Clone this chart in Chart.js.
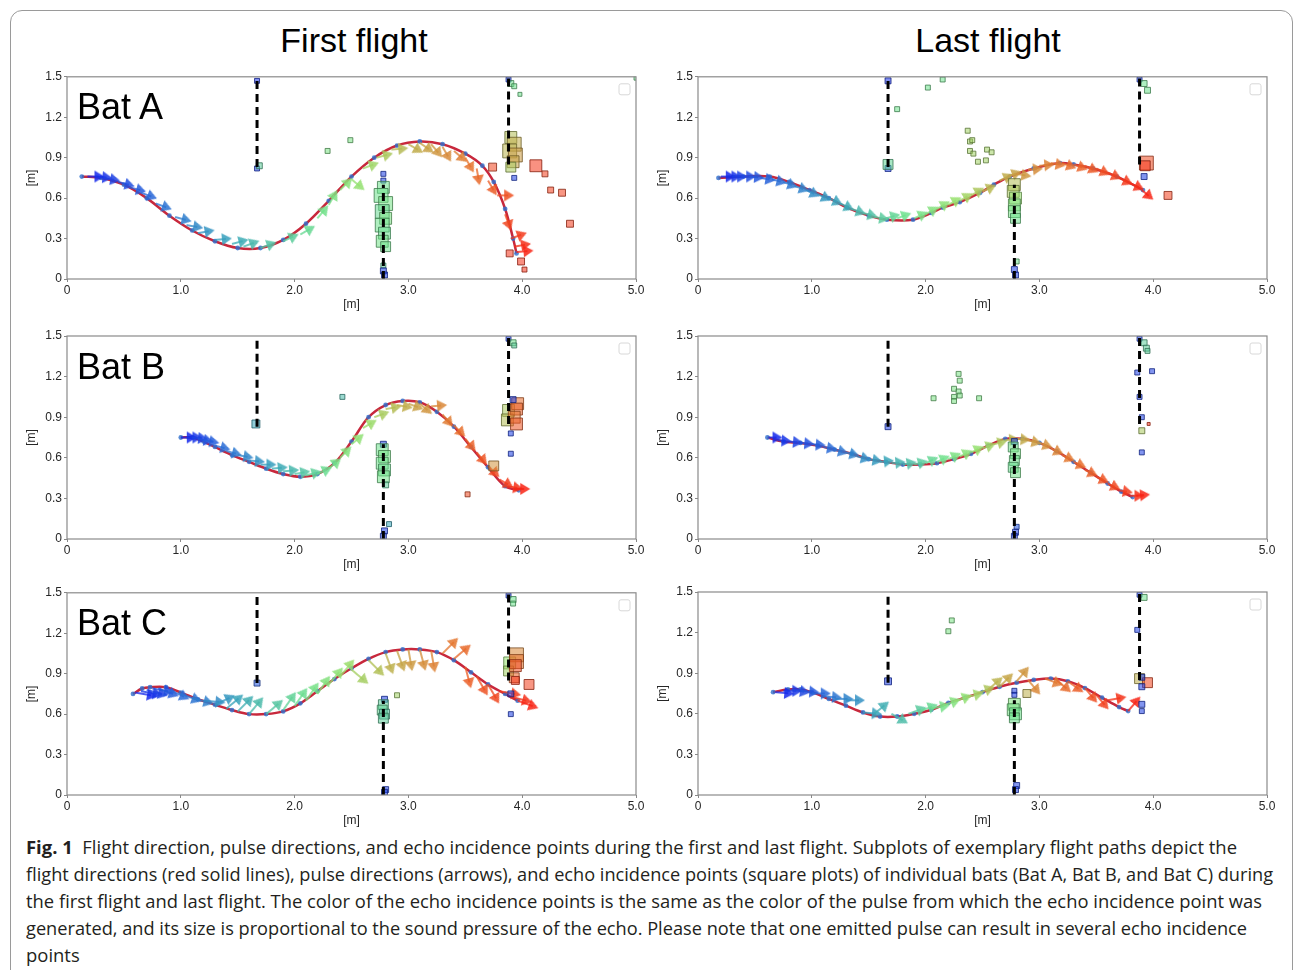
<!DOCTYPE html>
<html>
<head>
<meta charset="utf-8">
<script src="https://cdn.jsdelivr.net/npm/chart.js@4.4.1/dist/chart.umd.min.js"></script>
<style>
  body { margin: 0; background: #fff; width: 1293px; height: 970px; overflow: hidden; position: relative; font-family: "Liberation Sans", Arial, sans-serif; }
  .frame { position: absolute; left: 10px; top: 10px; width: 1281px; height: 1000px; border: 1px solid #9a9a9a; border-radius: 12px; }
  .box { position: absolute; width: 630px; height: 250px; }
  .head { position: absolute; top: 23px; font-size: 34px; line-height: 34px; color: #000; transform: translateX(-50%); white-space: nowrap; }
  .bat { position: absolute; left: 77px; font-size: 36px; line-height: 36px; color: #000; }
  .cap { position: absolute; left: 26px; top: 834px; font-family: "Open Sans", "Noto Sans", sans-serif; font-size: 18px; line-height: 27px; color: #231f20; white-space: nowrap; }
  .cap span { display: inline-block; transform-origin: 0 0; }
  .cap b { font-weight: 700; }
</style>
</head>
<body>
<div class="frame"></div>
<div class="head" style="left:354px">First flight</div>
<div class="head" style="left:988px">Last flight</div>

<div class="box" style="left:20px;top:66px"><canvas id="cA1"></canvas></div>
<div class="box" style="left:651px;top:66px"><canvas id="cA2"></canvas></div>
<div class="box" style="left:20px;top:326px"><canvas id="cB1"></canvas></div>
<div class="box" style="left:651px;top:326px"><canvas id="cB2"></canvas></div>
<div class="box" style="left:20px;top:582px"><canvas id="cC1"></canvas></div>
<div class="box" style="left:651px;top:582px"><canvas id="cC2"></canvas></div>

<div class="bat" style="top:89px">Bat A</div>
<div class="bat" style="top:349px">Bat B</div>
<div class="bat" style="top:605px">Bat C</div>

<div class="cap" id="cap">
  <div><span data-w="1211"><b>Fig. 1</b>&nbsp; Flight direction, pulse directions, and echo incidence points during the first and last flight. Subplots of exemplary flight paths depict the</span></div>
  <div><span data-w="1247">flight directions (red solid lines), pulse directions (arrows), and echo incidence points (square plots) of individual bats (Bat A, Bat B, and Bat C) during</span></div>
  <div><span data-w="1236">the first flight and last flight. The color of the echo incidence points is the same as the color of the pulse from which the echo incidence point was</span></div>
  <div><span data-w="1221">generated, and its size is proportional to the sound pressure of the echo. Please note that one emitted pulse can result in several echo incidence</span></div>
  <div><span>points</span></div>
</div>

<script>
// 軸の目盛り
const xTicks = [0, 1, 2, 3, 4, 5];
const yTicks = [0, 0.3, 0.6, 0.9, 1.2, 1.5];

// 障害物（破線）
const wallX = [1.67, 2.78, 3.88];
const wallLow = [0.83, 0, 0.85];
const wallHigh = [1.5, 0.7, 1.5];

// 飛行経路 [x, y]
const pathA1 = [[0.13,0.76],[0.3,0.75],[0.5,0.7],[0.7,0.6],[0.9,0.47],[1.1,0.36],[1.3,0.28],[1.5,0.23],[1.7,0.23],[1.9,0.29],[2.1,0.41],[2.3,0.58],[2.5,0.76],[2.7,0.9],[2.9,0.99],[3.1,1.02],[3.3,1.0],[3.5,0.93],[3.65,0.84],[3.75,0.72],[3.85,0.52],[3.92,0.3],[3.95,0.19]];
const pathA2 = [[0.18,0.75],[0.4,0.76],[0.63,0.76],[0.8,0.72],[0.98,0.66],[1.15,0.6],[1.31,0.53],[1.5,0.47],[1.66,0.44],[1.89,0.44],[2.05,0.49],[2.15,0.53],[2.3,0.57],[2.48,0.64],[2.6,0.7],[2.74,0.76],[2.95,0.82],[3.18,0.86],[3.3,0.85],[3.47,0.82],[3.68,0.76],[3.91,0.66]];
const pathB1 = [[1.0,0.75],[1.1,0.75],[1.2,0.72],[1.3,0.68],[1.45,0.62],[1.6,0.57],[1.75,0.52],[1.9,0.48],[2.05,0.46],[2.2,0.48],[2.35,0.56],[2.5,0.72],[2.65,0.9],[2.8,0.99],[2.95,1.02],[3.1,1.01],[3.25,0.94],[3.4,0.83],[3.55,0.68],[3.7,0.53],[3.85,0.39],[3.97,0.36]];
const pathB2 = [[0.61,0.75],[0.75,0.72],[0.9,0.71],[1.05,0.69],[1.2,0.66],[1.35,0.63],[1.5,0.59],[1.65,0.57],[1.8,0.55],[1.95,0.55],[2.1,0.56],[2.25,0.59],[2.4,0.63],[2.55,0.69],[2.7,0.74],[2.85,0.74],[3.0,0.71],[3.15,0.65],[3.3,0.57],[3.45,0.49],[3.6,0.41],[3.72,0.35],[3.82,0.31]];
const pathC1 = [[0.58,0.75],[0.66,0.79],[0.73,0.8],[0.87,0.8],[1.0,0.76],[1.15,0.71],[1.3,0.67],[1.45,0.63],[1.6,0.6],[1.75,0.6],[1.9,0.62],[2.05,0.68],[2.2,0.77],[2.35,0.86],[2.5,0.94],[2.65,1.01],[2.8,1.06],[2.95,1.08],[3.1,1.08],[3.25,1.06],[3.4,1.0],[3.55,0.91],[3.7,0.82],[3.85,0.75],[3.96,0.7]];
const pathC2 = [[0.66,0.76],[0.79,0.78],[0.9,0.78],[1.0,0.76],[1.15,0.71],[1.3,0.66],[1.45,0.61],[1.6,0.58],[1.75,0.58],[1.9,0.6],[2.05,0.63],[2.2,0.68],[2.35,0.72],[2.5,0.76],[2.65,0.8],[2.8,0.83],[2.95,0.85],[3.1,0.86],[3.25,0.84],[3.4,0.79],[3.55,0.72],[3.7,0.65],[3.78,0.62]];

// パルス方向の矢印 [x, y, 角度(度)]
const arrowsA1 = [[0.18,0.76,0],[0.25,0.76,-5],[0.32,0.75,-10],[0.45,0.72,-15],[0.55,0.68,-15],[0.65,0.64,-20],[0.78,0.56,-20],[0.95,0.46,-15],[1.05,0.4,-10],[1.15,0.34,10],[1.3,0.29,5],[1.45,0.26,15],[1.55,0.24,20],[1.7,0.23,20],[1.9,0.28,25],[2.05,0.33,30],[2.2,0.45,50],[2.3,0.55,60],[2.4,0.66,45],[2.5,0.74,-40],[2.6,0.82,20],[2.72,0.9,15],[2.85,0.96,5],[3.0,1.0,-30],[3.1,1.01,-35],[3.2,1.0,-50],[3.3,0.98,-60],[3.4,0.95,-40],[3.5,0.9,-60],[3.6,0.82,-80],[3.7,0.73,-60],[3.78,0.62,0],[3.85,0.48,-70],[3.9,0.3,20],[3.93,0.24,10],[3.95,0.2,5]];
const arrowsA2 = [[0.2,0.76,0],[0.25,0.76,0],[0.3,0.76,0],[0.38,0.76,0],[0.45,0.76,-5],[0.55,0.75,-10],[0.65,0.74,-15],[0.75,0.72,-20],[0.85,0.69,-20],[0.95,0.66,-25],[1.05,0.63,-25],[1.15,0.6,-25],[1.25,0.56,-25],[1.35,0.52,-20],[1.45,0.49,-15],[1.55,0.46,-10],[1.65,0.45,15],[1.75,0.45,20],[1.9,0.45,25],[2.0,0.48,30],[2.1,0.52,30],[2.2,0.55,30],[2.3,0.58,30],[2.4,0.62,30],[2.5,0.65,25],[2.65,0.73,25],[2.72,0.76,20],[2.8,0.78,-10],[2.9,0.81,5],[3.0,0.84,5],[3.1,0.86,-10],[3.2,0.86,-20],[3.3,0.85,-20],[3.4,0.84,-25],[3.5,0.82,-25],[3.6,0.79,-25],[3.7,0.75,-25],[3.8,0.71,-25],[3.9,0.66,-40]];
const arrowsB1 = [[1.0,0.75,0],[1.05,0.75,0],[1.1,0.75,-5],[1.15,0.74,-10],[1.2,0.73,-10],[1.3,0.69,-15],[1.4,0.65,-15],[1.5,0.62,-10],[1.6,0.58,-5],[1.7,0.55,0],[1.8,0.52,5],[1.9,0.5,5],[2.0,0.48,10],[2.1,0.47,15],[2.2,0.48,25],[2.3,0.52,40],[2.4,0.6,45],[2.5,0.7,40],[2.6,0.82,30],[2.7,0.9,20],[2.8,0.96,10],[2.9,0.99,-10],[3.0,1.0,-20],[3.1,1.0,-40],[3.2,0.98,5],[3.3,0.92,-50],[3.4,0.84,-45],[3.5,0.74,-50],[3.6,0.64,-50],[3.7,0.54,-45],[3.8,0.44,-30],[3.87,0.39,-10],[3.93,0.37,0]];
const arrowsB2 = [[0.62,0.75,0],[0.7,0.73,-5],[0.8,0.72,-5],[0.9,0.71,-5],[1.0,0.7,-5],[1.1,0.68,-10],[1.2,0.66,-15],[1.3,0.64,-15],[1.4,0.61,-15],[1.5,0.59,-10],[1.6,0.57,5],[1.7,0.56,5],[1.8,0.55,10],[1.9,0.55,15],[2.0,0.56,25],[2.1,0.57,25],[2.2,0.59,25],[2.3,0.61,25],[2.4,0.64,25],[2.5,0.67,20],[2.6,0.7,15],[2.7,0.73,5],[2.8,0.74,-5],[2.9,0.73,-15],[3.0,0.71,-20],[3.1,0.67,-25],[3.2,0.62,-25],[3.3,0.57,-25],[3.4,0.51,-25],[3.5,0.46,-25],[3.6,0.41,-25],[3.7,0.36,-10],[3.8,0.32,0],[3.85,0.32,5]];
const arrowsC1 = [[0.6,0.76,-10],[0.65,0.77,-10],[0.7,0.78,-15],[0.75,0.79,-10],[0.8,0.79,-20],[0.9,0.78,-25],[1.0,0.75,-20],[1.1,0.72,-15],[1.2,0.7,-5],[1.3,0.67,25],[1.4,0.64,40],[1.5,0.62,45],[1.6,0.6,50],[1.75,0.6,40],[1.9,0.63,55],[2.0,0.66,55],[2.1,0.7,55],[2.2,0.75,55],[2.3,0.82,50],[2.4,0.88,50],[2.5,0.93,-40],[2.65,1.0,-45],[2.8,1.05,-70],[2.9,1.07,-70],[3.0,1.08,-80],[3.1,1.08,-75],[3.2,1.07,-80],[3.3,1.05,45],[3.4,1.01,40],[3.5,0.95,-75],[3.6,0.88,-60],[3.7,0.82,-60],[3.8,0.77,-10],[3.9,0.73,-15],[3.96,0.7,-20]];
const arrowsC2 = [[0.68,0.76,-5],[0.75,0.77,0],[0.82,0.78,-10],[0.9,0.77,-5],[1.0,0.75,0],[1.1,0.73,-5],[1.2,0.71,0],[1.3,0.7,0],[1.45,0.61,-5],[1.55,0.6,40],[1.7,0.6,-30],[1.85,0.6,20],[1.95,0.62,20],[2.05,0.64,10],[2.15,0.66,20],[2.25,0.69,20],[2.35,0.72,15],[2.45,0.75,20],[2.55,0.78,40],[2.65,0.8,45],[2.8,0.84,50],[2.9,0.85,-50],[3.05,0.86,-20],[3.15,0.85,-40],[3.25,0.84,-35],[3.4,0.79,-50],[3.5,0.74,-50],[3.6,0.7,10],[3.78,0.62,50]];

// エコー入射点 [x, y, 大きさ, 色(0-1)]
const echoesA1 = [[1.67,1.47,2.5,0.02],[1.67,0.82,2.5,0.05],[1.69,0.84,3,0.4],[3.88,1.48,2.5,0.05],[3.9,1.45,3,0.45],[3.93,1.43,2.5,0.45],[3.98,1.37,2,0.45],[5.0,1.49,2,0.45],[2.29,0.95,2.5,0.48],[2.49,1.03,2.5,0.48],
  [2.78,0.78,2.5,0.05],[2.78,0.73,2.5,0.05],[2.78,0.68,6,0.45],[2.76,0.62,7,0.45],[2.8,0.56,7,0.47],[2.77,0.5,7,0.43],[2.8,0.45,6,0.48],[2.77,0.4,7,0.45],[2.79,0.34,6,0.44],[2.77,0.28,6,0.46],[2.8,0.24,5,0.45],[2.78,0.1,2.5,0.4],[2.78,0.06,3,0.05],[2.79,0.03,3,0.05],
  [3.9,1.05,6,0.62],[3.93,1.0,7,0.66],[3.89,0.95,7,0.64],[3.94,0.92,7,0.7],[3.92,0.87,6,0.68],[3.9,0.83,5,0.6],[3.93,0.75,2.5,0.05],
  [3.74,0.83,4,0.92],[4.12,0.84,6,0.95],[4.2,0.78,3,0.93],[4.25,0.66,3,0.93],[4.35,0.64,3.5,0.93],[4.42,0.41,3.5,0.94],[3.89,0.19,3.5,0.96],[3.99,0.13,3.5,0.96],[4.02,0.07,2.5,0.96]];
const echoesA2 = [[1.67,1.47,3,0.02],[1.67,0.82,3,0.05],[1.67,0.85,5,0.42],[1.75,1.26,2.5,0.45],[2.02,1.42,2.5,0.45],[2.15,1.48,2.5,0.45],
  [2.37,1.1,2.5,0.58],[2.39,1.02,2.5,0.58],[2.41,1.03,2.5,0.58],[2.39,0.95,2.5,0.58],[2.42,0.93,2.5,0.58],[2.46,0.87,2.5,0.58],[2.53,0.88,2.5,0.58],[2.54,0.96,2.5,0.58],[2.58,0.94,2.5,0.58],
  [2.78,0.7,6,0.62],[2.77,0.65,6,0.6],[2.79,0.6,6,0.55],[2.78,0.55,6,0.5],[2.78,0.5,6,0.47],[2.79,0.45,5,0.45],[2.8,0.13,2.5,0.45],[2.78,0.07,3,0.05],[2.79,0.03,3,0.05],
  [3.88,1.48,2.5,0.05],[3.92,1.45,3,0.45],[3.95,1.4,3,0.45],[3.94,0.86,7,0.9],[3.93,0.84,5,0.95],[3.92,0.76,3,0.05],[4.13,0.62,4,0.93]];
const echoesB1 = [[1.66,0.85,4,0.3],[2.42,1.05,2.5,0.35],
  [2.78,0.7,3,0.05],[2.77,0.66,6,0.45],[2.79,0.61,6,0.47],[2.77,0.56,6,0.45],[2.79,0.51,6,0.44],[2.78,0.46,6,0.46],[2.8,0.4,3,0.4],[2.83,0.11,2.5,0.3],[2.79,0.06,3,0.05],[2.78,0.02,3,0.05],
  [3.88,1.48,2.5,0.05],[3.92,1.45,3,0.45],[3.93,1.43,2.5,0.4],
  [3.88,0.95,6,0.6],[3.87,0.88,6,0.62],[3.96,1.0,6,0.82],[3.95,0.96,6,0.85],[3.93,0.9,6,0.8],[3.95,0.85,6,0.88],[3.92,1.03,3,0.05],[3.9,0.78,2.5,0.05],[3.9,0.63,2.5,0.05],
  [3.75,0.54,5,0.72],[3.52,0.33,2.5,0.9]];
const echoesB2 = [[1.67,0.83,3,0.05],
  [2.29,1.22,2.5,0.48],[2.3,1.17,2.5,0.48],[2.25,1.11,2.5,0.48],[2.29,1.09,2.5,0.48],[2.3,1.06,2.5,0.48],[2.25,1.05,2.5,0.48],[2.25,1.02,2.5,0.48],[2.07,1.04,2.5,0.48],[2.47,1.04,2.5,0.48],
  [2.78,0.72,3,0.05],[2.77,0.68,5,0.45],[2.79,0.63,5,0.47],[2.78,0.58,5,0.45],[2.77,0.53,5,0.44],[2.79,0.49,5,0.46],[2.8,0.09,2.5,0.1],[2.79,0.05,3,0.05],[2.78,0.02,3,0.05],
  [3.88,1.48,2.5,0.05],[3.92,1.45,3,0.4],[3.94,1.41,3,0.4],[3.95,1.39,2.5,0.4],
  [3.86,1.23,2.5,0.05],[3.99,1.24,2.5,0.05],[3.88,1.05,2.5,0.05],[3.9,0.9,2.5,0.05],[3.9,0.8,3,0.6],[3.9,0.64,2.5,0.05],[3.96,0.85,1.5,0.95]];
const echoesC1 = [[1.67,0.83,3,0.1],[2.9,0.74,2.5,0.58],
  [2.79,0.71,3,0.05],[2.78,0.67,5,0.4],[2.77,0.63,5,0.42],[2.79,0.6,5,0.38],[2.78,0.57,5,0.4],[2.8,0.04,3,0.05],[2.79,0.02,3,0.05],
  [3.88,1.48,2.5,0.05],[3.92,1.45,3,0.45],[3.92,1.42,2.5,0.45],
  [3.89,0.98,6,0.55],[3.88,0.92,5,0.58],[3.95,1.04,7,0.75],[3.95,0.99,7,0.8],[3.94,0.96,6,0.9],[3.93,0.87,5,0.85],[3.94,0.85,4,0.95],[3.9,0.75,3,0.05],[3.9,0.6,2.5,0.05],
  [4.06,0.82,5,0.93]];
const echoesC2 = [[1.67,0.84,3.5,0.05],[2.23,1.29,2.5,0.48],[2.2,1.21,2.5,0.48],
  [2.78,0.77,2.5,0.05],[2.78,0.74,2.5,0.05],[2.78,0.67,6,0.5],[2.77,0.63,6,0.47],[2.79,0.6,6,0.45],[2.78,0.57,5,0.45],[2.8,0.07,3,0.05],[2.79,0.04,3,0.05],
  [2.89,0.75,4,0.65],
  [3.88,1.48,2.5,0.05],[3.92,1.46,3,0.45],[3.86,1.22,2.5,0.05],
  [3.88,0.86,5,0.65],[3.95,0.83,5,0.92],[3.9,0.87,3,0.05],[3.9,0.8,3,0.05],[3.9,0.67,3,0.05],[3.9,0.62,2.5,0.05]];

// 時間で変わる色（青→緑→赤）
const stops = [
  [0.0, 20, 40, 235], [0.15, 40, 105, 215], [0.3, 55, 165, 185], [0.45, 110, 225, 140],
  [0.55, 150, 225, 110], [0.65, 190, 175, 75], [0.8, 230, 115, 45], [1.0, 248, 35, 20]
];
function cmap(t, a, dark) {
  let i = 0;
  while (i < stops.length - 2 && t > stops[i + 1][0]) i++;
  const s0 = stops[i], s1 = stops[i + 1];
  const f = Math.min(1, Math.max(0, (t - s0[0]) / (s1[0] - s0[0])));
  const k = dark ? 0.55 : 1;
  const c = [1, 2, 3].map(j => Math.round((s0[j] + (s1[j] - s0[j]) * f) * k));
  return `rgba(${c[0]},${c[1]},${c[2]},${a})`;
}

function arrowImage(color, len) {
  const c = document.createElement("canvas");
  c.width = len * 2 + 4;
  c.height = 16;
  const g = c.getContext("2d");
  const x0 = len + 2, x1 = len * 2 + 2, cy = 8;
  g.strokeStyle = color;
  g.fillStyle = color;
  g.lineWidth = 1.8;
  g.beginPath(); g.moveTo(x0, cy); g.lineTo(x1 - 6, cy); g.stroke();
  g.beginPath(); g.moveTo(x1, cy); g.lineTo(x1 - 10, cy - 6); g.lineTo(x1 - 10, cy + 6); g.closePath(); g.fill();
  return c;
}

// 枠と空の凡例
const framePlugin = {
  id: "frame",
  afterDraw(chart) {
    const { ctx, chartArea: a } = chart;
    ctx.save();
    ctx.strokeStyle = "#8a8a8a";
    ctx.lineWidth = 1.2;
    ctx.strokeRect(a.left, a.top, a.right - a.left, a.bottom - a.top);
    ctx.strokeStyle = "#d8d8d8";
    ctx.lineWidth = 1;
    ctx.beginPath();
    ctx.roundRect(a.right - 17, a.top + 7, 11, 11, 2);
    ctx.stroke();
    ctx.restore();
  }
};

const tickFmt = v => (v === 0 ? "0" : Number(v).toFixed(1));
const tickFont = { family: "Liberation Sans", size: 12 };

function makeChart(id, path, arrows, echoes, len) {
  const arrowImgs = arrows.map((_, i) => arrowImage(cmap(i / (arrows.length - 1), 0.85), len));
  const datasets = wallX.map((x, i) => ({
    data: [{ x: x, y: wallLow[i] }, { x: x, y: wallHigh[i] }],
    showLine: true, borderColor: "#000", borderWidth: 3, borderDash: [8, 5],
    pointRadius: 0, order: 0
  }));
  datasets.push({
    data: echoes.map(e => ({ x: e[0], y: e[1] })),
    pointStyle: "rect",
    pointRadius: c => echoes[c.dataIndex][2] * 1.4,
    backgroundColor: c => cmap(echoes[c.dataIndex][3], 0.55),
    borderColor: c => cmap(echoes[c.dataIndex][3], 0.8, true),
    borderWidth: 1,
    order: 1
  });
  datasets.push({
    data: arrows.map(a => ({ x: a[0], y: a[1] })),
    pointStyle: c => arrowImgs[c.dataIndex],
    rotation: c => -arrows[c.dataIndex][2],
    pointRadius: 5,
    order: 2
  });
  datasets.push({
    data: path.map(p => ({ x: p[0], y: p[1] })),
    showLine: true, tension: 0.35,
    borderColor: "#c8283c", borderWidth: 2.5,
    pointRadius: 2.4, pointBackgroundColor: "rgba(45,110,205,0.8)", pointBorderWidth: 0,
    order: 3
  });

  new Chart(document.getElementById(id), {
    type: "scatter",
    data: { datasets: datasets },
    options: {
      responsive: true,
      maintainAspectRatio: false,
      animation: false,
      layout: { padding: { top: 10, right: 14, left: 0, bottom: 0 } },
      scales: {
        x: {
          min: 0, max: 5,
          afterBuildTicks: s => { s.ticks = xTicks.map(v => ({ value: v })); },
          afterFit: s => { s.height = 37; },
          ticks: { callback: tickFmt, color: "#262626", font: tickFont, padding: 1, maxRotation: 0 },
          grid: { drawOnChartArea: false, tickLength: 3, color: "#888" },
          border: { display: false },
          title: { display: true, text: "[m]", color: "#262626", font: tickFont, padding: { top: 2, bottom: 4 } }
        },
        y: {
          min: 0, max: 1.5,
          afterBuildTicks: s => { s.ticks = yTicks.map(v => ({ value: v })); },
          afterFit: s => { s.width = 47; },
          ticks: { callback: tickFmt, color: "#262626", font: tickFont, padding: 2 },
          grid: { drawOnChartArea: false, tickLength: 3, color: "#888" },
          border: { display: false },
          title: { display: true, text: "[m]", color: "#262626", font: tickFont, padding: { top: 4, bottom: 0 } }
        }
      },
      plugins: { legend: { display: false }, tooltip: { enabled: false } }
    },
    plugins: [framePlugin]
  });
}

makeChart("cA1", pathA1, arrowsA1, echoesA1, 17);
makeChart("cA2", pathA2, arrowsA2, echoesA2, 15);
makeChart("cB1", pathB1, arrowsB1, echoesB1, 16);
makeChart("cB2", pathB2, arrowsB2, echoesB2, 14);
makeChart("cC1", pathC1, arrowsC1, echoesC1, 22);
makeChart("cC2", pathC2, arrowsC2, echoesC2, 19);

// 説明文の各行の幅を元画像に合わせる
const spans = document.querySelectorAll("#cap span[data-w]");
const k0 = 1211 / spans[0].getBoundingClientRect().width;
document.querySelectorAll("#cap span").forEach(s => {
  const w = s.getBoundingClientRect().width;
  const k = s.dataset.w ? Number(s.dataset.w) / w : k0;
  s.style.transform = `scaleX(${k})`;
});
</script>
</body>
</html>
